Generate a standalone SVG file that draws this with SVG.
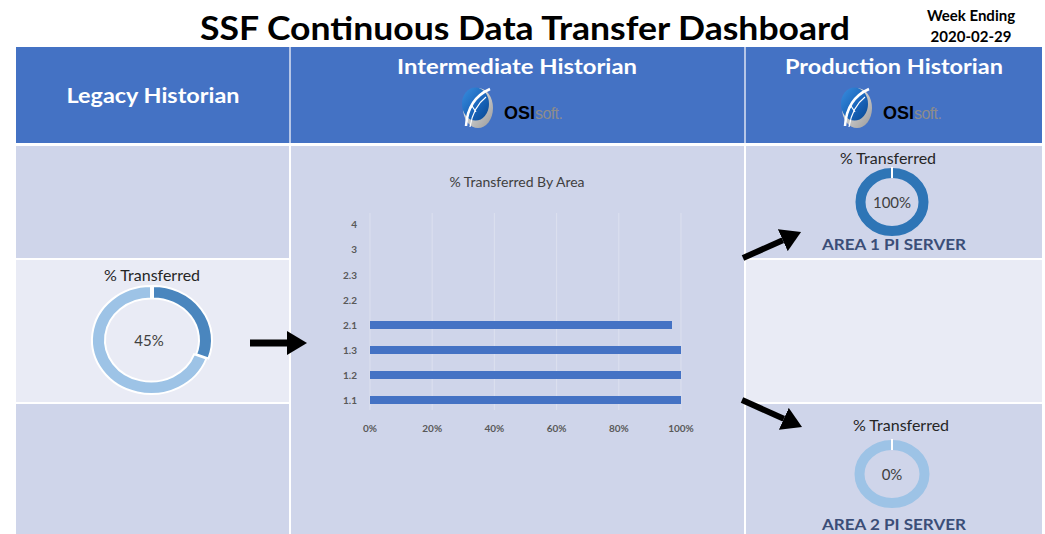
<svg xmlns="http://www.w3.org/2000/svg" width="1045" height="534" viewBox="0 0 1045 534">
<style>
.t{font-family:Lato,"Liberation Sans",sans-serif}
.hdr{font-family:Lato,"Liberation Sans",sans-serif;font-weight:bold;font-size:20px;fill:#fff;text-anchor:middle}
.lbl{font-family:Lato,"Liberation Sans",sans-serif;font-size:16px;fill:#262626;text-anchor:middle}
.pct{font-family:Lato,"Liberation Sans",sans-serif;font-size:15px;fill:#404040;text-anchor:middle}
.ax{font-family:Lato,"Liberation Sans",sans-serif;font-size:10px;fill:#595959;font-weight:bold}
.srv{font-family:Lato,"Liberation Sans",sans-serif;font-weight:bold;font-size:15px;fill:#3B4E78;text-anchor:middle}
.dark{fill:#CFD5EA}
.light{fill:#E9EBF5}
.bar{fill:#4472C4}
.grid{stroke:#DCE0EF;stroke-width:1}
.arr{stroke:#000;fill:none;marker-end:url(#ah)}
.osi{font-family:"Liberation Sans",Arial,sans-serif;font-size:18px;font-weight:bold;fill:#000}
</style>
<defs>
<marker id="ah" markerUnits="userSpaceOnUse" viewBox="0 0 20 24" refX="0" refY="12" markerWidth="20" markerHeight="24" orient="auto">
<path d="M0,0 L20,12 L0,24 Z" fill="#000"/>
</marker>
<linearGradient id="globe" x1="0" y1="0" x2="1" y2="1">
<stop offset="0" stop-color="#3A8EDF"/>
<stop offset="0.6" stop-color="#1762B8"/>
<stop offset="1" stop-color="#0A4890"/>
</linearGradient>
<linearGradient id="moon" x1="0" y1="0" x2="1" y2="1">
<stop offset="0" stop-color="#F4F4F4"/>
<stop offset="1" stop-color="#9A9A9A"/>
</linearGradient>
</defs>

<rect x="0" y="0" width="1045" height="534" fill="#fff"/>

<g id="title">
<text class="t" x="525" y="40" font-size="32" font-weight="bold" text-anchor="middle" fill="#000" textLength="650" lengthAdjust="spacingAndGlyphs">SSF Continuous Data Transfer Dashboard</text>
<text class="t" x="971" y="21" font-size="15" font-weight="bold" text-anchor="middle" fill="#000">Week Ending</text>
<text class="t" x="971" y="42" font-size="15" font-weight="bold" text-anchor="middle" fill="#000">2020-02-29</text>
</g>

<g id="header">
<rect x="16" y="47" width="1026" height="96" fill="#4472C4"/>
<line x1="290" y1="47" x2="290" y2="143" stroke="#DCE3F3" stroke-width="1.5"/>
<line x1="745" y1="47" x2="745" y2="143" stroke="#DCE3F3" stroke-width="1.5"/>
<text class="hdr" x="153" y="103" textLength="173" lengthAdjust="spacingAndGlyphs">Legacy Historian</text>
<text class="hdr" x="517" y="74" textLength="240" lengthAdjust="spacingAndGlyphs">Intermediate Historian</text>
<text class="hdr" x="894" y="74" textLength="218" lengthAdjust="spacingAndGlyphs">Production Historian</text>
</g>

<g id="logo-intermediate">
<ellipse cx="478" cy="108" rx="15" ry="20" fill="url(#moon)"/>
<ellipse cx="475.5" cy="104" rx="13.5" ry="16.5" fill="url(#globe)"/>
<path d="M466,126 C467,110 474,96 490,89" stroke="#fff" stroke-width="2.5" fill="none"/>
<path d="M470,127 C472,114 477,104 486,97" stroke="#fff" stroke-width="1.2" fill="none"/>
<path d="M472,106 L468,113 M472,106 L476,112" stroke="#fff" stroke-width="1.2" fill="none"/>
<text class="osi" x="504" y="119">OSI<tspan font-weight="normal" fill="#8C8C8C" font-size="16" letter-spacing="-0.6">soft.</tspan></text>
</g>

<g id="logo-production" transform="translate(379,0)">
<ellipse cx="478" cy="108" rx="15" ry="20" fill="url(#moon)"/>
<ellipse cx="475.5" cy="104" rx="13.5" ry="16.5" fill="url(#globe)"/>
<path d="M466,126 C467,110 474,96 490,89" stroke="#fff" stroke-width="2.5" fill="none"/>
<path d="M470,127 C472,114 477,104 486,97" stroke="#fff" stroke-width="1.2" fill="none"/>
<path d="M472,106 L468,113 M472,106 L476,112" stroke="#fff" stroke-width="1.2" fill="none"/>
<text class="osi" x="504" y="119">OSI<tspan font-weight="normal" fill="#8C8C8C" font-size="16" letter-spacing="-0.6">soft.</tspan></text>
</g>

<g id="body-bands">
<rect class="dark" x="16" y="146" width="273" height="112"/>
<rect class="light" x="16" y="260" width="273" height="142"/>
<rect class="dark" x="16" y="404" width="273" height="130"/>
<rect class="dark" x="291" y="146" width="453" height="388"/>
<rect class="dark" x="746" y="146" width="296" height="112"/>
<rect class="light" x="746" y="260" width="296" height="142"/>
<rect class="dark" x="746" y="404" width="296" height="130"/>
</g>

<g id="legacy-donut">
<text class="lbl" x="152" y="281">% Transferred</text>
<path d="M206.4,358.5 A59,54 0 1 1 151,286 L151,298.5 A46,41.5 0 1 0 194.2,354.2 Z" fill="#9DC3E6" stroke="#fff" stroke-width="2"/>
<path d="M153,286 A59,54 0 0 1 208.4,358.5 L196.2,354.2 A46,41.5 0 0 0 153,298.5 Z" fill="#4A86BE" stroke="#fff" stroke-width="2"/>
<text class="pct" x="149" y="346" font-size="16">45%</text>
</g>

<g id="chart">
<text class="t" x="517" y="187" font-size="14" fill="#404040" text-anchor="middle">% Transferred By Area</text>
<line class="grid" x1="370" y1="213" x2="370" y2="410"/>
<line class="grid" x1="432.2" y1="213" x2="432.2" y2="410"/>
<line class="grid" x1="494.4" y1="213" x2="494.4" y2="410"/>
<line class="grid" x1="556.6" y1="213" x2="556.6" y2="410"/>
<line class="grid" x1="618.8" y1="213" x2="618.8" y2="410"/>
<line class="grid" x1="681" y1="213" x2="681" y2="410"/>
<g text-anchor="end">
<text class="ax" x="357" y="228">4</text>
<text class="ax" x="357" y="253">3</text>
<text class="ax" x="357" y="279">2.3</text>
<text class="ax" x="357" y="304">2.2</text>
<text class="ax" x="357" y="329">2.1</text>
<text class="ax" x="357" y="354">1.3</text>
<text class="ax" x="357" y="379">1.2</text>
<text class="ax" x="357" y="404">1.1</text>
</g>
<rect class="bar" x="370" y="321" width="302" height="8"/>
<rect class="bar" x="370" y="346" width="311" height="8"/>
<rect class="bar" x="370" y="371" width="311" height="8"/>
<rect class="bar" x="370" y="396" width="311" height="8"/>
<g text-anchor="middle">
<text class="ax" x="370" y="432">0%</text>
<text class="ax" x="432.2" y="432">20%</text>
<text class="ax" x="494.4" y="432">40%</text>
<text class="ax" x="556.6" y="432">60%</text>
<text class="ax" x="618.8" y="432">80%</text>
<text class="ax" x="681" y="432">100%</text>
</g>
</g>

<g id="area1">
<text class="lbl" x="888" y="164">% Transferred</text>
<ellipse cx="892" cy="202" rx="31.5" ry="29" fill="none" stroke="#2E75B6" stroke-width="10"/>
<line x1="892" y1="167" x2="892" y2="178" stroke="#fff" stroke-width="2"/>
<text class="pct" x="892" y="208">100%</text>
<text class="srv" x="894" y="250" textLength="144" lengthAdjust="spacingAndGlyphs">AREA 1 PI SERVER</text>
</g>

<g id="area2">
<text class="lbl" x="901" y="431">% Transferred</text>
<ellipse cx="892" cy="474" rx="32.5" ry="29" fill="none" stroke="#9DC3E6" stroke-width="10"/>
<line x1="892" y1="439" x2="892" y2="450" stroke="#fff" stroke-width="2"/>
<text class="pct" x="892" y="480">0%</text>
<text class="srv" x="894" y="530" textLength="144" lengthAdjust="spacingAndGlyphs">AREA 2 PI SERVER</text>
</g>

<g id="connectors">
<line class="arr" x1="250" y1="343" x2="287" y2="343" stroke-width="7"/>
<line class="arr" x1="743" y1="258" x2="782.8" y2="240.2" stroke-width="6"/>
<line class="arr" x1="742" y1="400" x2="783.8" y2="418.8" stroke-width="6"/>
</g>
</svg>
